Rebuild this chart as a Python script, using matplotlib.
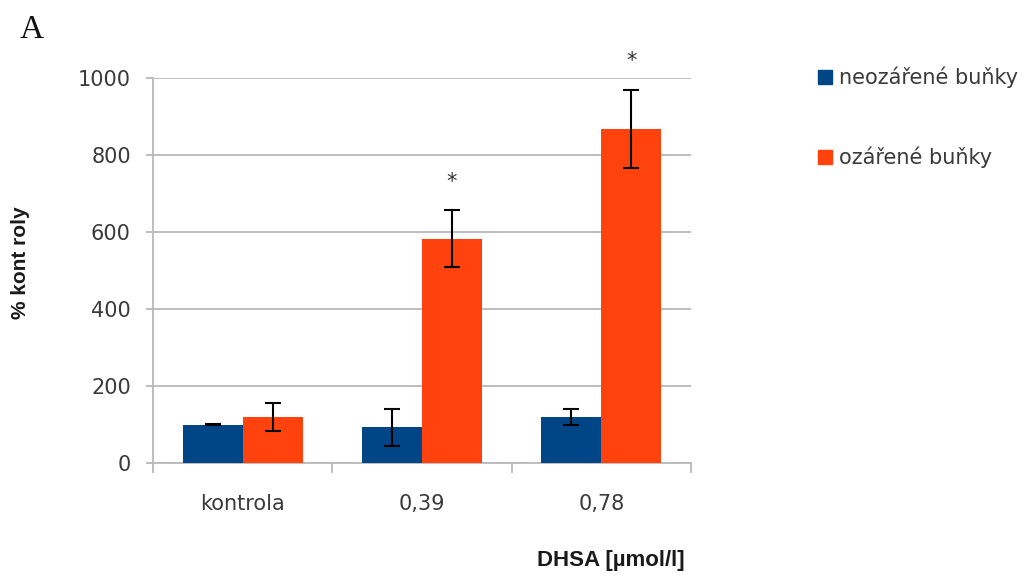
import numpy as np
import matplotlib.pyplot as plt
from matplotlib.patches import Patch

categories = ["kontrola", "0,39", "0,78"]
neozarene = [100, 93, 119]
neozarene_err = [0.5, 48, 20]
ozarene = [120, 582, 867]
ozarene_err = [37, 74, 102]
significant = [False, True, True]  # marked with * above ozářené bars

BLUE = "#004586"
ORANGE = "#ff420e"
GRID = "#b9b9b9"


def plot_data():
    fig = plt.figure(figsize=(10.3, 5.76), dpi=100)
    ax = fig.add_axes([153 / 1030, 113 / 576, 538 / 1030, 385 / 576])

    x = np.arange(len(categories))
    w = 0.335
    ax.bar(x - w / 2, neozarene, w, color=BLUE, zorder=3)
    ax.bar(x + w / 2, ozarene, w, color=ORANGE, zorder=3)
    ax.errorbar(x - w / 2, neozarene, yerr=neozarene_err, fmt="none",
                ecolor="black", elinewidth=1.5, capsize=5.5, capthick=1.5, zorder=4)
    ax.errorbar(x + w / 2, ozarene, yerr=ozarene_err, fmt="none",
                ecolor="black", elinewidth=1.5, capsize=5.5, capthick=1.5, zorder=4)

    for i, sig in enumerate(significant):
        if sig:
            ax.text(x[i] + w / 2, ozarene[i] + ozarene_err[i] + 75, "*",
                    ha="center", va="center", fontsize=15, color="#333333",
                    clip_on=False)

    ax.set_xlim(-0.5, 2.5)
    ax.set_ylim(0, 1000)
    ax.set_yticks(range(0, 1001, 200))
    ax.yaxis.grid(True, color=GRID, linewidth=1.3, zorder=0)
    ax.set_axisbelow(True)

    for s in ["top", "right"]:
        ax.spines[s].set_visible(False)
    for s in ["left", "bottom"]:
        ax.spines[s].set_color(GRID)
        ax.spines[s].set_linewidth(1.3)

    ax.set_xticks(x)
    ax.set_xticklabels(categories)
    ax.set_xticks([-0.5, 0.5, 1.5, 2.5], minor=True)
    ax.tick_params(axis="x", which="major", length=0, pad=22,
                   labelsize=15, labelcolor="#3a3a3a")
    ax.tick_params(axis="x", which="minor", length=7, width=1.3,
                   color=GRID, direction="out")
    ax.tick_params(axis="y", length=5, width=1.3, color=GRID, pad=11,
                   labelsize=15, labelcolor="#3a3a3a")

    ax.set_ylabel("% kont roly", fontsize=15, fontweight="bold",
                  family="Liberation Sans", color="#1a1a1a")
    ax.yaxis.set_label_coords(-0.228, 0.52)
    ax.set_xlabel("DHSA [µmol/l]", fontsize=16, fontweight="bold",
                  family="Liberation Sans", color="#1a1a1a")
    ax.xaxis.set_label_coords(0.851, -0.225)

    handles = [Patch(color=BLUE), Patch(color=ORANGE)]
    fig.legend(handles, ["neozářené buňky", "ozářené buňky"],
               loc="upper left", bbox_to_anchor=(818 / 1030, 1 - 67 / 576),
               frameon=False, fontsize=15, labelcolor="#3a3a3a",
               handlelength=0.65, handleheight=0.65, handletextpad=0.35,
               labelspacing=2.8, borderaxespad=0, borderpad=0)

    fig.text(20 / 1030, 1 - 30 / 576, "A", fontsize=24, family="Liberation Serif",
             ha="left", va="center", color="#111111")

    fig.savefig("out.png", dpi=100)


if __name__ == "__main__":
    plot_data()
